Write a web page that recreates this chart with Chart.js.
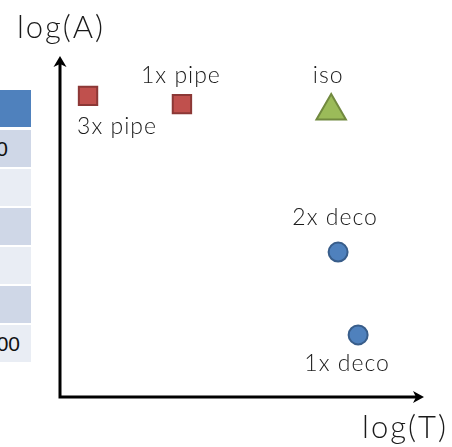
<!DOCTYPE html>
<html>
<head>
<meta charset="utf-8">
<script src="https://cdn.jsdelivr.net/npm/chart.js@4.4.0/dist/chart.umd.min.js"></script>
<style>
  html, body { margin: 0; padding: 0; background: #fff; }
  #wrap { position: relative; width: 452px; height: 447px; overflow: hidden; }
  #tabela { position: absolute; left: 0; top: 0; width: 31px; height: 447px; }
  .wiersz { position: absolute; left: 0; width: 31px; font-family: "Liberation Sans", Arial, sans-serif;
            font-size: 21px; color: #111; overflow: hidden; white-space: nowrap; }
  .wiersz span { position: absolute; right: 0; }
  #wykres { position: absolute; left: 0; top: 0; }
</style>
</head>
<body>
<div id="wrap">
  <div id="tabela"></div>
  <canvas id="wykres" width="452" height="447"></canvas>
</div>
<script>
// dane
var nazwy = ['3x pipe', '1x pipe', 'iso', '2x deco', '1x deco'];
var logT = [0.77, 3.35, 7.45, 7.64, 8.19];
var logA = [8.83, 8.59, 8.39, 4.25, 1.82];
var grupy = ['pipe', 'pipe', 'iso', 'deco', 'deco'];

// skrawek tabeli z lewej
var tabelaTeksty = ['', '0', '', '', '', '', '00'];

var wiersze = [
  {top: 90, h: 37, bg: '#4f81bd'},
  {top: 130, h: 37, bg: '#cfd7e7'},
  {top: 169, h: 37, bg: '#e9edf4'},
  {top: 208, h: 37, bg: '#cfd7e7'},
  {top: 247, h: 37, bg: '#e9edf4'},
  {top: 286, h: 37, bg: '#cfd7e7'},
  {top: 325, h: 37, bg: '#e9edf4'}
];
var tab = document.getElementById('tabela');
for (var i = 0; i < wiersze.length; i++) {
  var d = document.createElement('div');
  d.className = 'wiersz';
  d.style.top = wiersze[i].top + 'px';
  d.style.height = wiersze[i].h + 'px';
  d.style.lineHeight = wiersze[i].h + 'px';
  d.style.background = wiersze[i].bg;
  var s = document.createElement('span');
  s.textContent = tabelaTeksty[i];
  s.style.right = (i == 1 ? 23 : 11) + 'px';
  d.appendChild(s);
  tab.appendChild(d);
}

function punkty(g) {
  var out = [];
  for (var i = 0; i < nazwy.length; i++) {
    if (grupy[i] == g) out.push({x: logT[i], y: logA[i]});
  }
  return out;
}

// przesuniecia podpisow wzgledem punktow
var podpisy = {
  '3x pipe': [29, 31],
  '1x pipe': [-1, -29],
  'iso': [-3, -35],
  '2x deco': [-3, -34],
  '1x deco': [-11, 29]
};

var osiePlugin = {
  id: 'osie',
  afterDraw: function(chart) {
    var ctx = chart.ctx;
    var a = chart.chartArea;
    var x0 = chart.scales.x.getPixelForValue(0);
    var y0 = chart.scales.y.getPixelForValue(0);
    ctx.save();
    ctx.strokeStyle = '#000';
    ctx.fillStyle = '#000';
    ctx.lineWidth = 3;
    ctx.beginPath();
    ctx.moveTo(x0, y0 + 1.5);
    ctx.lineTo(x0, a.top + 6);
    ctx.moveTo(x0 - 1.5, y0);
    ctx.lineTo(a.right - 6, y0);
    ctx.stroke();
    // groty
    ctx.beginPath();
    ctx.moveTo(x0, a.top);
    ctx.lineTo(x0 - 6.5, a.top + 11);
    ctx.lineTo(x0, a.top + 8);
    ctx.lineTo(x0 + 6.5, a.top + 11);
    ctx.closePath();
    ctx.fill();
    ctx.beginPath();
    ctx.moveTo(a.right, y0);
    ctx.lineTo(a.right - 11, y0 - 6);
    ctx.lineTo(a.right - 8, y0);
    ctx.lineTo(a.right - 11, y0 + 6);
    ctx.closePath();
    ctx.fill();

    ctx.fillStyle = '#1a1a1a';
    ctx.textAlign = 'center';
    ctx.textBaseline = 'middle';
    ctx.letterSpacing = '2px';
    ctx.font = '300 31px Lato, "Open Sans", sans-serif';
    ctx.fillText('log(A)', 61, 28);
    ctx.fillText('log(T)', 405, 428);

    ctx.letterSpacing = '1px';
    ctx.font = '300 23px Lato, "Open Sans", sans-serif';
    for (var i = 0; i < nazwy.length; i++) {
      var px = chart.scales.x.getPixelForValue(logT[i]);
      var py = chart.scales.y.getPixelForValue(logA[i]);
      var o = podpisy[nazwy[i]];
      ctx.fillText(nazwy[i], px + o[0], py + o[1]);
    }
    ctx.restore();
  }
};

var ctx = document.getElementById('wykres');
var wykres = new Chart(ctx, {
  type: 'scatter',
  data: {
    datasets: [
      {
        label: 'pipe',
        data: punkty('pipe'),
        pointStyle: 'rect',
        pointRadius: 13,
        backgroundColor: '#c0504d',
        borderColor: '#8c3836',
        borderWidth: 2
      },
      {
        label: 'iso',
        data: punkty('iso'),
        pointStyle: 'triangle',
        pointRadius: 17,
        backgroundColor: '#9bbb59',
        borderColor: '#71893f',
        borderWidth: 2
      },
      {
        label: 'deco',
        data: punkty('deco'),
        pointStyle: 'circle',
        pointRadius: 9.5,
        backgroundColor: '#4f81bd',
        borderColor: '#385d8a',
        borderWidth: 2
      }
    ]
  },
  options: {
    responsive: false,
    animation: false,
    clip: false,
    layout: { padding: { left: 60, right: 28, top: 56, bottom: 50 } },
    plugins: { legend: { display: false }, tooltip: { enabled: false } },
    scales: {
      x: { type: 'linear', min: 0, max: 10, display: false },
      y: { type: 'linear', min: 0, max: 10, display: false }
    }
  },
  plugins: [osiePlugin]
});
</script>
</body>
</html>
